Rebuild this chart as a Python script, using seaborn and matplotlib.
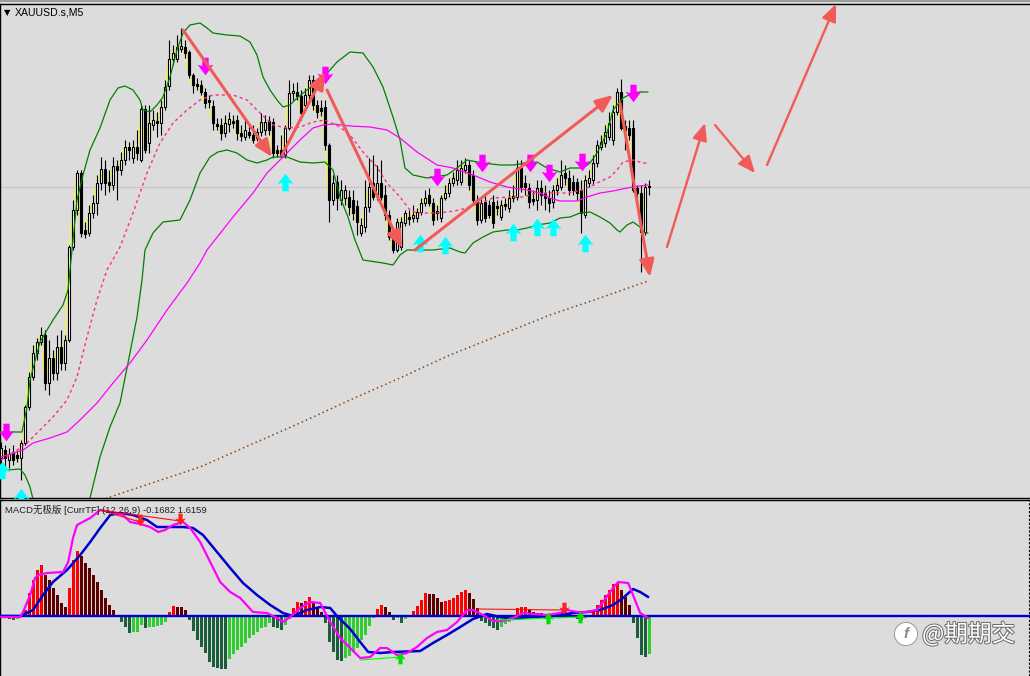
import numpy as np
import matplotlib
matplotlib.use("Agg")
import matplotlib.pyplot as plt
import matplotlib.patheffects as pe
from matplotlib.path import Path
from matplotlib.lines import Line2D
import seaborn as sns

# ---------------- data (price units, M5 bars) ----------------
bar_open = [42, 50, 40, 48, 45, 42, 57, 93, 123, 147,
            158, 165, 117, 142, 127, 153, 137, 160, 253, 290,
            327, 270, 267, 287, 297, 317, 331, 318, 315, 334,
            330, 340, 353, 342, 353, 340, 391, 357, 375, 379,
            377, 393, 414, 441, 441, 451, 453, 448, 425, 416,
            415, 408, 400, 394, 376, 375, 367, 376, 379, 380,
            367, 363, 368, 365, 362, 368, 370, 379, 378, 350,
            350, 345, 372, 407, 408, 404, 395, 405, 420, 395,
            392, 393, 355, 300, 318, 300, 302, 303, 300, 294,
            267, 273, 293, 317, 305, 317, 305, 285, 263, 250,
            253, 277, 283, 282, 282, 288, 297, 305, 297, 289,
            282, 302, 307, 317, 320, 318, 330, 335, 325, 300,
            280, 298, 295, 298, 294, 283, 296, 292, 302, 303,
            332, 317, 312, 301, 300, 312, 307, 302, 298, 310,
            313, 327, 322, 318, 318, 310, 285, 317, 320, 337,
            353, 357, 363, 360, 388, 408, 374, 372, 372, 312,
            307, 268, 314]
bar_high = [58, 55, 52, 55, 50, 60, 95, 128, 155, 162,
            173, 170, 160, 150, 165, 170, 165, 255, 300, 330,
            330, 278, 295, 305, 325, 343, 340, 330, 343, 340,
            348, 360, 358, 360, 370, 395, 395, 395, 390, 388,
            400, 420, 460, 455, 465, 472, 460, 450, 427, 422,
            420, 412, 405, 400, 382, 382, 385, 388, 385, 385,
            375, 380, 375, 375, 372, 387, 385, 384, 382, 355,
            365, 375, 420, 417, 418, 410, 412, 425, 425, 400,
            400, 400, 357, 325, 325, 320, 315, 310, 310, 300,
            282, 320, 342, 345, 335, 340, 315, 290, 268, 282,
            283, 290, 290, 295, 292, 302, 310, 312, 302, 295,
            305, 315, 322, 328, 340, 340, 342, 340, 330, 305,
            302, 305, 300, 305, 300, 300, 302, 310, 315, 340,
            340, 325, 317, 310, 320, 320, 315, 310, 315, 322,
            340, 335, 330, 325, 322, 320, 325, 330, 345, 360,
            365, 375, 388, 395, 412, 421, 380, 380, 380, 315,
            315, 317, 320]
bar_low = [33, 32, 32, 35, 38, 20, 55, 90, 120, 140,
           155, 110, 105, 120, 120, 130, 130, 158, 250, 285,
           263, 262, 264, 282, 285, 310, 305, 308, 310, 300,
           325, 335, 340, 337, 340, 338, 347, 347, 370, 363,
           365, 390, 410, 435, 438, 448, 442, 422, 407, 410,
           405, 392, 392, 370, 370, 360, 363, 368, 372, 360,
           359, 360, 362, 357, 359, 364, 365, 365, 342, 343,
           342, 342, 370, 400, 400, 380, 388, 400, 390, 382,
           384, 350, 278, 295, 290, 295, 295, 285, 280, 265,
           264, 268, 288, 300, 300, 300, 280, 260, 247, 248,
           250, 274, 275, 278, 278, 285, 294, 294, 275, 280,
           278, 300, 303, 314, 315, 315, 327, 310, 295, 275,
           277, 278, 282, 272, 285, 280, 290, 288, 298, 300,
           308, 305, 292, 295, 290, 295, 290, 288, 292, 305,
           310, 315, 305, 305, 300, 267, 282, 313, 315, 333,
           350, 353, 360, 355, 385, 370, 350, 360, 308, 300,
           228, 265, 305]
bar_close = [52, 42, 46, 40, 42, 57, 93, 123, 147, 158,
             165, 117, 142, 127, 153, 137, 160, 253, 290, 327,
             267, 266, 287, 297, 317, 331, 317, 315, 334, 330,
             340, 353, 350, 353, 347, 391, 350, 377, 380, 377,
             393, 413, 441, 447, 453, 454, 447, 425, 415, 414,
             408, 397, 398, 377, 374, 367, 377, 381, 377, 367,
             364, 370, 365, 360, 368, 378, 378, 370, 347, 347,
             345, 372, 407, 409, 404, 387, 405, 420, 395, 388,
             389, 355, 300, 317, 302, 310, 310, 293, 287, 278,
             275, 293, 313, 303, 317, 303, 285, 263, 250, 278,
             278, 287, 281, 285, 288, 297, 302, 297, 280, 287,
             302, 307, 317, 322, 330, 332, 335, 315, 300, 280,
             297, 282, 285, 277, 292, 295, 294, 302, 304, 332,
             313, 313, 298, 299, 312, 305, 302, 297, 310, 315,
             325, 322, 310, 310, 307, 287, 320, 322, 337, 355,
             358, 368, 377, 388, 408, 372, 370, 365, 310, 307,
             268, 313, 313]

# Bollinger bands (bar index, price)
bb_up_x = [0, 5.25, 5.5, 6.5, 7.25, 9.75, 11.5, 13, 15.5, 16.75, 17.75, 19, 20.5, 22.25,
           24.75, 27.25, 29.25, 31, 33, 34.75, 35.5, 37.25, 39, 40.5, 42.25, 44, 45.5,
           47.25, 49.75, 51.5, 53, 56.5, 59.75, 62.25, 64, 65.5, 67.25, 69, 70.5, 72.25,
           74, 76.5, 79.75, 82.25, 84, 87.25, 90.5, 93, 95.5, 98, 99.75, 101, 103, 106.5,
           111.5, 114, 116.5, 120.5, 124.75, 128, 131.5, 134, 136.5, 139.75, 142.25,
           145.5, 147.25, 149, 151.5, 153, 155.5, 158, 159.75, 161.75]
bb_up_y = [68, 68, 73, 93, 120, 158, 170, 180, 195, 210, 250, 300, 325, 350,
           372, 400, 412, 414, 410, 400, 390, 388, 395, 403, 423, 450, 467,
           475, 477, 472, 467, 465, 464, 458, 445, 423, 410, 400, 393, 395,
           402, 410, 420, 430, 438, 448, 447, 433, 413, 383, 360, 332, 325, 322,
           325, 332, 340, 337, 335, 335, 337, 338, 332, 328, 332,
           332, 337, 347, 367, 390, 402, 407, 408, 408]
bb_lo1_x = [0, 1.5, 4.75, 6, 7.25, 8]
bb_lo1_y = [28, 30, 31, 25, 13, 1]
bb_lo2_x = [21.75, 22.25, 24.75, 27.25, 29.75, 31.75, 34, 35.25, 36, 38,
            40.5, 44.75, 47.25, 49.75, 52.25, 54.25, 56.5, 59, 61.5, 64,
            66.5, 68, 71.5, 74.75, 78, 81, 83, 84.75, 86.75, 88.5,
            90.5, 95.5, 98, 99.75, 101.5, 108, 112.25, 114.75, 116, 118,
            120.5, 123, 126.5, 129, 131.5, 134, 137.25, 139.75, 142.25, 144.75,
            147.25, 149.75, 152.25, 154, 154.75, 156.5, 158, 159.75, 161, 161.75]
bb_lo2_y = [1, 2, 43, 73, 97, 137, 183, 220, 250, 267,
            278, 280, 300, 327, 343, 348, 350, 347, 340, 337,
            340, 343, 343, 338, 337, 338, 330, 303, 283, 260,
            240, 237, 235, 245, 250, 250, 252, 248, 247, 257,
            263, 268, 270, 270, 272, 275, 277, 282, 283, 287,
            288, 283, 277, 270, 268, 275, 278, 273, 267, 267]

# moving averages
ma_slow_x = [0, 5.5, 8, 12.25, 16.5, 19.75, 24, 28, 32.25, 36.5, 41.5, 46.5, 49.75, 51.5,
             58, 63, 66.5, 70.5, 74.75, 78, 80.5, 83, 87.25, 92.25, 96.5, 99.75, 104, 109,
             113, 118, 122.25, 126.5, 131.5, 134.75, 137.25, 139.75, 144, 146.5, 149.75,
             153, 156.5, 159.75, 161.75]
ma_slow_y = [43, 50, 57, 62, 68, 80, 97, 117, 137, 160, 190, 217, 237, 250,
             283, 307, 327, 343, 360, 372, 375, 376, 374, 373, 370, 362, 348, 335,
             332, 325, 318, 313, 310, 307, 302, 299, 299, 303, 307,
             309, 312, 314, 315]
ma_fast_x = [0, 3, 6.5, 9.75, 13, 16.5, 19, 21.5, 24, 26.5, 29.75, 33, 36.5, 39.75, 43,
             46.5, 49.75, 53, 58, 61.5, 64.75, 68, 71.5, 74.75, 78, 81, 84.75, 87.25, 90.5,
             94, 96.5, 99.75, 102.25, 104, 108, 111.5, 114.75, 120.5, 123, 127.25, 130.5,
             134, 137.25, 141.5, 145.5, 149, 152.25, 154, 155.5, 158, 160.5, 161.75]
ma_fast_y = [40, 47, 57, 70, 83, 100, 123, 163, 200, 230, 253, 287, 327, 357, 377,
             390, 400, 405, 405, 400, 387, 375, 372, 373, 378, 380, 373, 365, 348,
             333, 317, 303, 290, 287, 287, 288, 290, 298, 302, 303, 303,
             307, 307, 307, 310, 317, 323, 330, 338, 340, 337, 337]
ma_long_x = [25.0, 49.75, 62.25, 74.75, 87.25, 99.75, 112.25, 124.75, 137.25, 149.75, 161.75]
ma_long_y = [0, 33, 55, 77, 100, 122, 145, 165, 185, 202, 219]
last_price = 313

# signal arrows
sig_dn_x = [1.25, 51, 81, 109, 120.25, 132.25, 137, 145.25, 158]
sig_dn_y = [68, 434, 425, 323, 337, 337, 327, 338, 407]
sig_up_x = [0.25, 5, 71, 104.75, 111, 128, 134, 138, 146]
sig_up_y = [30, 3, 318, 257, 255, 268, 273, 273, 257]

# hand-drawn trend arrows
tr_x0 = [45.5, 70.25, 81.5, 103.5, 154.75, 166.5, 178.5, 191.5]
tr_y0 = [470, 345, 410, 250, 397, 253, 375, 335]
tr_x1 = [67.75, 81, 100.25, 153, 162.25, 176, 188.5, 208.75]
tr_y1 = [343, 428, 252, 405, 223, 377, 327, 496]
tr_lw = [2.2, 2.2, 2.2, 2.2, 2.2, 1.7, 1.6, 1.7]

# MACD
macd_hist = [-1.5, -2.5, -3.5, -4.5, -3.5, -0.5, 5.5, 22.5, 35.5, 45.5,
             50.5, 40.5, 35.5, 27.5, 20.5, 12.5, 8.5, 27.5, 55.5, 64.5,
             59.5, 52.5, 47.5, 40.5, 33.5, 25.5, 17.5, 10.5, 5.5, 0.5,
             -6.5, -11.5, -17.5, -16.5, -16, -9.5, -12.5, -11.5, -11, -10.5,
             -9.5, -6.5, 3.5, 9.5, 9.0, 8.5, 5.5, -4.5, -15.5, -24.5,
             -31.5, -37.5, -46.5, -51.5, -52.5, -53, -53.5, -43, -38, -34.5,
             -31.5, -27.5, -22.5, -19.5, -16.5, -12.5, -11.5, -7.5, -11.5, -12.5,
             -14.5, -9.5, -3.5, 7.5, 13.5, 13.0, 14.5, 18.5, 13.5, 8.5,
             3.5, -7.5, -26.5, -36.5, -44.5, -45, -42.5, -40.5, -36.5, -32.5,
             -24.5, -19.5, -10.5, -2.5, 6.5, 10.5, 8.5, 3.5, -4.5, -2.5,
             -7.5, -3.5, 0, 4.5, 9.5, 15.5, 22.5, 22.0, 21.5, 17.5,
             13.5, 14.5, 15.5, 17.5, 20.5, 23.5, 25.5, 22.5, 16.5, 7.5,
             -5.5, -7.5, -10.5, -12.5, -14.5, -11.5, -8.5, -6.5, -4.5, 7.5,
             8.5, 9, 6.5, 3.5, 3, 2.5, -3, -2, -1.5, 2,
             3, 3.5, 2.5, 0.5, -3.5, -4.5, -2.5, -1.5, 5.5, 10.5,
             15.5, 20.5, 25.5, 31.5, 32.5, 25.5, 18.5, 10.5, -7.5, -22.5,
             -39.5, -41.5, -38.5]
macd_x = [0, 4.8, 5.5, 7.3, 8.5, 9.3, 11.5, 15.5, 16.8, 18, 19, 22.3, 24.8, 27.3, 30.5,
          32.3, 34.8, 37.3, 39.3, 41, 43, 45.5, 47.3, 49.8, 52.3, 54.8, 57.3, 59.8, 63,
          66.5, 69, 70.5, 72.3, 74.8, 77.3, 79.8, 82.3, 84.8, 87.3, 89.8, 92.3, 94.8,
          96.5, 99, 101.5, 104, 106.5, 109, 111.5, 114, 116.5, 118, 120.5, 123, 125.5,
          128, 130.5, 133, 136.5, 139.8, 141.5, 144, 146.5, 149, 150.5, 153, 154.3,
          156.8, 158, 159.8, 161.8]
macd_line = [-1.5, -1.5, 3.5, 20.5, 37.5, 40.5, 42.5, 43.5, 53.5, 77.5, 90.5, 97.5, 105.5,
             103.5, 100.5, 93.5, 91.5, 88.5, 83.5, 85.5, 90.5, 93.5, 87.5, 73.5, 53.5, 33.5,
             23.5, 17.5, 3.5, 2.5, -2.5, -6.5, -1.5, 7.5, 13.5, 12.5, -6.5, -22.5, -32.5,
             -42.5, -41.5, -32.5, -32.5, -39.5, -37.5, -31.5, -22.5, -16.5, -14.5, -6.5,
             5.5, 5.5, 0.5, -5.5, -5.5, -2.5, 2.5, 1.5, 0.5, 2.5, 5.5, 3.5, 3.5, 5.5,
             13.5, 27.5, 33.5, 32.5, 20.5, 2.5, -2.5]
sig_x = [0, 4.8, 8, 10.5, 13, 16.5, 19.8, 22.3, 24.8, 27.3, 29.8, 33, 36.5, 39, 41.5,
         45.5, 48, 50.5, 54, 57.3, 60.5, 64, 67.3, 70.5, 73, 76.5, 79.8, 82.3, 84, 87.3,
         89.8, 91.8, 94.8, 98, 104.8, 108, 111.5, 114.8, 118, 121.5, 124.8, 128, 133,
         138, 143, 146.5, 149.8, 153, 155.5, 158, 159.8, 161.8]
sig_line = [-0.5, -0.5, 5.5, 20.5, 33.5, 45.5, 60.5, 73.5, 87.5, 100.5, 102.5, 100.5,
            95.5, 88.5, 88.5, 88.5, 87.5, 80.5, 63.5, 47.5, 32.5, 20.5, 10.5, 2.5, -0.5,
            5.5, 8.5, 7.5, -0.5, -13.5, -26.5, -36.5, -37.5, -36.5, -35.5, -27.5, -19.5,
            -11.5, -3.5, 1.5, -1.5, -3.5, -1.5, -0.5, 2.5, 3.5, 5.5, 10.5, 17.5, 26.5,
            23.5, 18.5]
div_x0 = [24.75, 24.75, 119, 89.75, 124]
div_y0 = [105.5, 105.5, 6.5, -44.5, -4.5]
div_x1 = [34.75, 44.75, 140.5, 99.75, 144.75]
div_y1 = [93.5, 94.5, 5.5, -41.5, -1.5]
div_col = ["#ff1010", "#ff1010", "#ff1010", "#00ff00", "#00ff00"]
div_dn_x = [34.75, 44.75, 140.75]
div_dn_y = [96, 96.5, 7.5]
div_up_x = [99.75, 136.75, 144.75]
div_up_y = [-42, -2.5, -1.5]

# ---------------- drawing ----------------
sns.set_style("white")
plt.rcParams["font.family"] = ["Liberation Sans", "Noto Sans CJK SC", "DejaVu Sans"]

BG = "#dcdcdc"
H = 676.0
fig = plt.figure(figsize=(10.3, 6.76), dpi=100, facecolor=BG)
ax1 = fig.add_axes([0, (676 - 498) / H, 1, (498 - 4) / H])
ax2 = fig.add_axes([0, 0, 1, (676 - 500) / H])
for ax in (ax1, ax2):
    ax.set_facecolor(BG)
    ax.set_xticks([])
    ax.set_yticks([])
    for s in ax.spines.values():
        s.set_visible(False)
for s in ("left", "top", "bottom"):
    ax1.spines[s].set_visible(True)
    ax1.spines[s].set_color("black")
    ax1.spines[s].set_linewidth(1.0)
for s in ("left", "top"):
    ax2.spines[s].set_visible(True)
    ax2.spines[s].set_color("black")
    ax2.spines[s].set_linewidth(1.0)

bars = np.arange(len(bar_close))
o = np.array(bar_open, float)
c = np.array(bar_close, float)
hi = np.array(bar_high, float)
lo = np.array(bar_low, float)

# price line & yellow close line
ax1.axhline(last_price, color="#c4c4c4", lw=0.8, zorder=0)
sns.lineplot(x=bars, y=c, ax=ax1, color="#ffff00", lw=1.1, zorder=1,
             linestyle=(0, (2, 1.5)), legend=False, sort=False, estimator=None)

# candles
ax1.vlines(bars, lo, hi, color="black", lw=0.8, zorder=3)
up = c >= o
body_b = np.minimum(o, c)
body_h = np.maximum(np.abs(c - o), 1.0)
ax1.bar(bars[up], body_h[up], bottom=body_b[up], width=0.62, color="white",
        edgecolor="black", lw=0.8, zorder=4)
ax1.bar(bars[~up], body_h[~up], bottom=body_b[~up], width=0.62, color="black",
        edgecolor="black", lw=0.8, zorder=4)

# indicator lines
line_kw = dict(ax=ax1, legend=False, sort=False, estimator=None, zorder=5)
sns.lineplot(x=bb_up_x, y=bb_up_y, color="#008000", lw=0.9, **line_kw)
sns.lineplot(x=bb_lo1_x, y=bb_lo1_y, color="#008000", lw=0.9, **line_kw)
sns.lineplot(x=bb_lo2_x, y=bb_lo2_y, color="#008000", lw=0.9, **line_kw)
sns.lineplot(x=ma_slow_x, y=ma_slow_y, color="#ff00ff", lw=0.9, **line_kw)
sns.lineplot(x=ma_fast_x, y=ma_fast_y, color="#ff2a8a", lw=1.0,
             linestyle=(0, (2.2, 2.2)), **line_kw)
sns.lineplot(x=ma_long_x, y=ma_long_y, color="#8b4513", lw=1.1,
             linestyle=(0, (1, 2)), **line_kw)

# arrow markers
dn_verts = [(-0.18, 0.5), (0.18, 0.5), (0.18, 0.02), (0.45, 0.1), (0, -0.5),
            (-0.45, 0.1), (-0.18, 0.02), (-0.18, 0.5)]
dn_arrow = Path(dn_verts, closed=True)
up_arrow = Path([(x, -y) for x, y in dn_verts], closed=True)
ax1.scatter(sig_dn_x, sig_dn_y, marker=dn_arrow, s=160, color="#ff00ff",
            lw=0, zorder=6, clip_on=True)
ax1.scatter(sig_up_x, sig_up_y, marker=up_arrow, s=160, color="#00ffff",
            lw=0, zorder=6, clip_on=True)

# trend arrows
for x0, y0, x1, y1, w in zip(tr_x0, tr_y0, tr_x1, tr_y1, tr_lw):
    ax1.annotate("", xy=(x1, y1), xytext=(x0, y0), annotation_clip=False,
                 arrowprops=dict(arrowstyle="-|>,head_length=0.8,head_width=0.34",
                                 color="#f25a58", lw=w, shrinkA=0, shrinkB=0,
                                 mutation_scale=13), zorder=7)

ax1.set_xlim(-0.25, 257.25)
ax1.set_ylim(2, 496)
ax1.set_xlabel("")
ax1.set_ylabel("")

# ---------------- MACD panel ----------------
hv = np.array(macd_hist)
cols = []
for i, v in enumerate(hv):
    prev = hv[i - 1] if i > 0 else v
    rising = v > prev
    if v >= 0:
        cols.append("#ff0000" if rising else "#5c0000")
    else:
        cols.append("#32cd32" if rising else "#1b5e3c")
ax2.bar(bars - 0.25, hv, width=0.75, align="edge", color=cols, lw=0, zorder=2,
        antialiased=False)
ax2.axhline(0, color="#0000cd", lw=1.7, zorder=3)
sns.lineplot(x=sig_x, y=sig_line, ax=ax2, color="#0000cd", lw=1.8, zorder=5,
             legend=False, sort=False, estimator=None)
sns.lineplot(x=macd_x, y=macd_line, ax=ax2, color="#ff00ff", lw=1.6, zorder=6,
             legend=False, sort=False, estimator=None)
for x0, y0, x1, y1, col in zip(div_x0, div_y0, div_x1, div_y1, div_col):
    ax2.plot([x0, x1], [y0, y1], color=col, lw=0.8, zorder=7)
ax2.scatter(div_dn_x, div_dn_y, marker=dn_arrow, s=70, color="#ff2020", lw=0, zorder=8)
ax2.scatter(div_up_x, div_up_y, marker=up_arrow, s=70, color="#00e000", lw=0, zorder=8)
ax2.axvline(257, color="black", lw=0.8, linestyle=(0, (2, 1.5)), zorder=1)
ax2.set_xlim(-0.25, 257.25)
ax2.set_ylim(-60.5, 115.5)
ax2.set_xlabel("")
ax2.set_ylabel("")

# ---------------- texts ----------------
fig.add_artist(Line2D([0, 1], [1 - 0.8 / H, 1 - 0.8 / H], color="#9a9a9a", lw=1.4,
                      transform=fig.transFigure))
fig.text(4 / 1030, 1 - 12.5 / H, "▼", fontsize=6, va="center", ha="left", color="black",
         family=["DejaVu Sans"])
fig.text(15 / 1030, 1 - 12.5 / H, "XAUUSD.s,M5", fontsize=7.6, va="center", ha="left",
         color="black")
fig.text(5 / 1030, 1 - 510 / H, "MACD无极版 [CurrTF] (12,26,9) -0.1682 1.6159",
         fontsize=6.8, va="center", ha="left", color="#202020")
fig.text(906 / 1030, 1 - 634 / H, "f", fontsize=11, va="center", ha="center",
         color="#888888", style="italic", fontweight="bold",
         bbox=dict(boxstyle="circle,pad=0.3", fc="white", ec="#a0a0a0", lw=0.8))
fig.text(922 / 1030, 1 - 634 / H, "@期期交", fontsize=17, va="center", ha="left",
         color="white", family=["Noto Sans CJK SC", "DejaVu Sans"],
         path_effects=[pe.withStroke(linewidth=1.4, foreground="#6a6a6a")])

fig.savefig("out.png", dpi=100, facecolor=BG)
